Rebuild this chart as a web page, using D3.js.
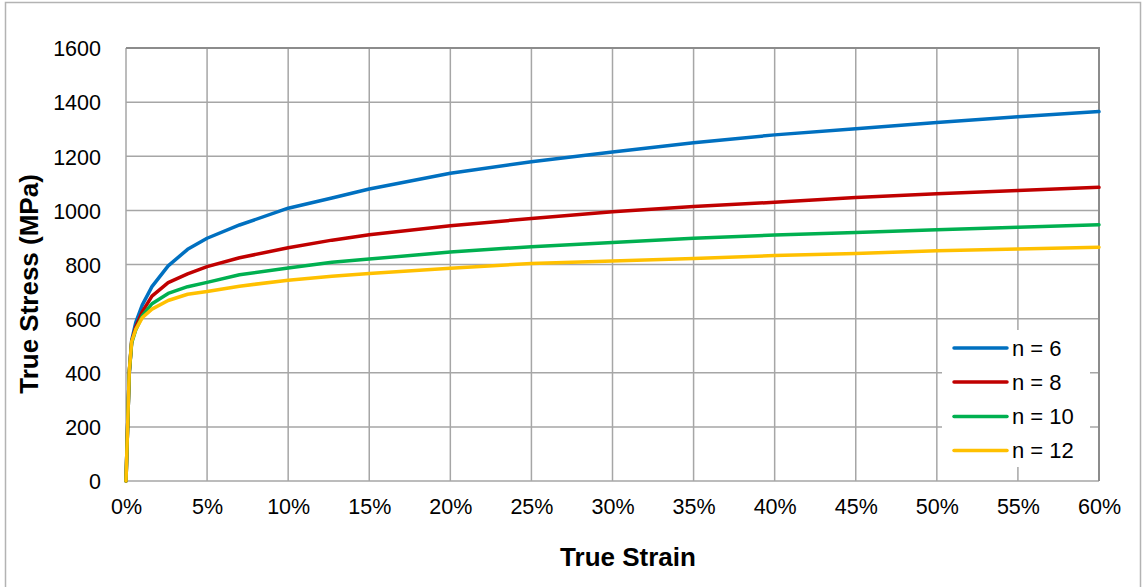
<!DOCTYPE html>
<html>
<head>
<meta charset="utf-8">
<script src="https://cdn.jsdelivr.net/npm/d3@7"></script>
<style>
  html, body { margin: 0; padding: 0; background: #fff; }
  svg { display: block; font-family: "Liberation Sans", Arial, sans-serif; }
</style>
</head>
<body>
<svg id="chart" width="1143" height="587"></svg>
<script>
// ---- data ----
const strainPct = [0, 0.2, 0.35, 0.6, 1.0, 1.6, 2.6, 3.8, 5, 7, 10, 12.7, 15, 20, 25, 30, 35, 40, 45, 50, 55, 60];
const stressN6  = [0, 400, 520, 585, 650, 718, 795, 856, 897, 946, 1008, 1046, 1079, 1137, 1180, 1216, 1250, 1279, 1302, 1325, 1346, 1365];
const stressN8  = [0, 400, 515, 568, 625, 683, 733, 765, 792, 825, 862, 890, 910, 943, 970, 995, 1014, 1030, 1048, 1061, 1073, 1085];
const stressN10 = [0, 400, 510, 558, 610, 655, 693, 718, 734, 762, 787, 808, 820, 846, 866, 881, 897, 909, 918, 928, 938, 947];
const stressN12 = [0, 405, 515, 560, 603, 635, 667, 690, 700, 720, 742, 757, 767, 786, 804, 813, 822, 833, 841, 851, 857, 864];
const seriesNames = ["n = 6", "n = 8", "n = 10", "n = 12"];
const seriesColors = ["#0070c0", "#c00000", "#00b050", "#ffc000"];
const xTicks = [0, 5, 10, 15, 20, 25, 30, 35, 40, 45, 50, 55, 60];
const yTicks = [0, 200, 400, 600, 800, 1000, 1200, 1400, 1600];

const seriesStress = [stressN6, stressN8, stressN10, stressN12];

// ---- layout ----
const svg = d3.select("#chart");
const pL = 126, pR = 1099, pT = 48, pB = 481;

const x = d3.scaleLinear().domain([0, 60]).range([pL, pR]);
const y = d3.scaleLinear().domain([0, 1600]).range([pB, pT]);

// outer chart border
svg.append("rect")
  .attr("x", 5.5).attr("y", 2.5).attr("width", 1135).attr("height", 600)
  .attr("fill", "#fff").attr("stroke", "#b3b3b3").attr("stroke-width", 1.5);

// gridlines
const grid = svg.append("g");
grid.selectAll("line.v").data(xTicks).enter().append("line")
  .attr("class", "v")
  .attr("x1", d => x(d)).attr("x2", d => x(d))
  .attr("y1", pT).attr("y2", pB)
  .attr("stroke", "#a6a6a6").attr("stroke-width", 1.5);
grid.selectAll("line.h").data(yTicks).enter().append("line")
  .attr("class", "h")
  .attr("x1", pL).attr("x2", pR)
  .attr("y1", d => y(d)).attr("y2", d => y(d))
  .attr("stroke", "#a6a6a6").attr("stroke-width", 1.5);

// plot border top/right (darker)
svg.append("path")
  .attr("d", `M${pL},${pT}H${pR}V${pB}`)
  .attr("fill", "none").attr("stroke", "#8c8c8c").attr("stroke-width", 2);

// axes (labels only)
const yAxis = d3.axisLeft(y).tickValues(yTicks).tickSize(0).tickPadding(0).tickFormat(d3.format("d"));
const gy = svg.append("g").attr("transform", `translate(${pL - 25},0)`).call(yAxis);
gy.select(".domain").remove();
gy.selectAll("text").attr("font-size", 21.5).attr("fill", "#000")
  .attr("font-family", "'Liberation Sans', Arial, sans-serif").attr("dy", "0.36em");

const xAxis = d3.axisBottom(x).tickValues(xTicks).tickSize(0).tickPadding(0).tickFormat(d => d + "%");
const gx = svg.append("g").attr("transform", `translate(0,${pB + 18})`).call(xAxis);
gx.select(".domain").remove();
gx.selectAll("text").attr("font-size", 21.5).attr("fill", "#000")
  .attr("font-family", "'Liberation Sans', Arial, sans-serif").attr("dy", "0.72em");

// axis titles
svg.append("text")
  .attr("transform", `translate(38,284) rotate(-90)`)
  .attr("text-anchor", "middle")
  .attr("font-size", 26).attr("font-weight", "bold").attr("fill", "#000")
  .text("True Stress (MPa)");
svg.append("text")
  .attr("x", 628).attr("y", 566)
  .attr("text-anchor", "middle")
  .attr("font-size", 26).attr("font-weight", "bold").attr("fill", "#000")
  .text("True Strain");

// curves
const line = d3.line().x(d => x(d[0])).y(d => y(d[1]));
seriesStress.forEach((vals, i) => {
  const pts = strainPct.map((s, j) => [s, vals[j]]);
  svg.append("path")
    .datum(pts)
    .attr("d", line)
    .attr("fill", "none")
    .attr("stroke", seriesColors[i])
    .attr("stroke-width", 3.5)
    .attr("stroke-linejoin", "round")
    .attr("stroke-linecap", "round");
});

// legend
const lg = svg.append("g");
lg.append("rect").attr("x", 942).attr("y", 330).attr("width", 148).attr("height", 137).attr("fill", "#fff");
const legY = [348, 382, 416.5, 450.5];
seriesNames.forEach((name, i) => {
  lg.append("line")
    .attr("x1", 954).attr("x2", 1007)
    .attr("y1", legY[i]).attr("y2", legY[i])
    .attr("stroke", seriesColors[i]).attr("stroke-width", 3.5)
    .attr("stroke-linecap", "round");
  lg.append("text")
    .attr("x", 1012).attr("y", legY[i]).attr("dy", "0.36em")
    .attr("font-size", 22).attr("fill", "#000")
    .text(name);
});
</script>
</body>
</html>
